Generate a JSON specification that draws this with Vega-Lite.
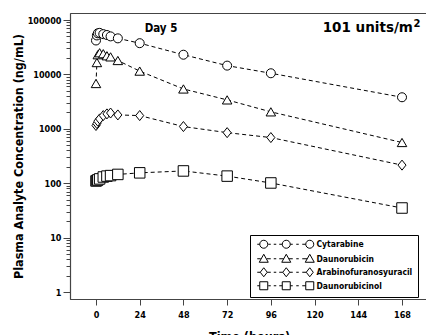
{
  "$schema": "https://vega.github.io/schema/vega-lite/v6.json",
  "width": 358,
  "height": 286,
  "autosize": "none",
  "padding": {"left": 70, "top": 13, "right": 0, "bottom": 36},
  "background": "white",
  "config": {
    "font": "DejaVu Sans Condensed, Liberation Sans, sans-serif",
    "view": {"stroke": "#444", "strokeWidth": 1},
    "axis": {
      "grid": false,
      "labelFont": "DejaVu Sans Condensed, Liberation Sans, sans-serif",
      "labelFontWeight": "bold",
      "labelFontSize": 9,
      "labelColor": "black",
      "titleFont": "DejaVu Sans Condensed, Liberation Sans, sans-serif",
      "titleFontWeight": "bold",
      "titleFontSize": 12.5,
      "titleColor": "black",
      "domainColor": "#444",
      "domainWidth": 1.2,
      "tickColor": "#444",
      "tickWidth": 1
    }
  },
  "datasets": {
    "pk": [
      {"analyte": "Cytarabine", "t": 0, "conc": 42000},
      {"analyte": "Cytarabine", "t": 0.5, "conc": 52000},
      {"analyte": "Cytarabine", "t": 1, "conc": 57000},
      {"analyte": "Cytarabine", "t": 2, "conc": 58000},
      {"analyte": "Cytarabine", "t": 4, "conc": 55000},
      {"analyte": "Cytarabine", "t": 6, "conc": 53000},
      {"analyte": "Cytarabine", "t": 8, "conc": 50000},
      {"analyte": "Cytarabine", "t": 12, "conc": 46000},
      {"analyte": "Cytarabine", "t": 24, "conc": 37500},
      {"analyte": "Cytarabine", "t": 48, "conc": 23000},
      {"analyte": "Cytarabine", "t": 72, "conc": 14500},
      {"analyte": "Cytarabine", "t": 96, "conc": 10500},
      {"analyte": "Cytarabine", "t": 168, "conc": 3800},
      {"analyte": "Daunorubicin", "t": 0, "conc": 6800},
      {"analyte": "Daunorubicin", "t": 0.5, "conc": 16500},
      {"analyte": "Daunorubicin", "t": 1, "conc": 23000},
      {"analyte": "Daunorubicin", "t": 2, "conc": 25000},
      {"analyte": "Daunorubicin", "t": 4, "conc": 24000},
      {"analyte": "Daunorubicin", "t": 6, "conc": 22000},
      {"analyte": "Daunorubicin", "t": 8, "conc": 21000},
      {"analyte": "Daunorubicin", "t": 12, "conc": 18000},
      {"analyte": "Daunorubicin", "t": 24, "conc": 11500},
      {"analyte": "Daunorubicin", "t": 48, "conc": 5400},
      {"analyte": "Daunorubicin", "t": 72, "conc": 3400},
      {"analyte": "Daunorubicin", "t": 96, "conc": 2050},
      {"analyte": "Daunorubicin", "t": 168, "conc": 560},
      {"analyte": "Arabinofuranosyuracil", "t": 0, "conc": 1150},
      {"analyte": "Arabinofuranosyuracil", "t": 0.5, "conc": 1250},
      {"analyte": "Arabinofuranosyuracil", "t": 1, "conc": 1380},
      {"analyte": "Arabinofuranosyuracil", "t": 2, "conc": 1520},
      {"analyte": "Arabinofuranosyuracil", "t": 4, "conc": 1750},
      {"analyte": "Arabinofuranosyuracil", "t": 6, "conc": 1880},
      {"analyte": "Arabinofuranosyuracil", "t": 8, "conc": 1950},
      {"analyte": "Arabinofuranosyuracil", "t": 12, "conc": 1800},
      {"analyte": "Arabinofuranosyuracil", "t": 24, "conc": 1750},
      {"analyte": "Arabinofuranosyuracil", "t": 48, "conc": 1100},
      {"analyte": "Arabinofuranosyuracil", "t": 72, "conc": 850},
      {"analyte": "Arabinofuranosyuracil", "t": 96, "conc": 690},
      {"analyte": "Arabinofuranosyuracil", "t": 168, "conc": 215},
      {"analyte": "Daunorubicinol", "t": 0, "conc": 110},
      {"analyte": "Daunorubicinol", "t": 0.5, "conc": 112},
      {"analyte": "Daunorubicinol", "t": 1, "conc": 115},
      {"analyte": "Daunorubicinol", "t": 2, "conc": 120},
      {"analyte": "Daunorubicinol", "t": 4, "conc": 130},
      {"analyte": "Daunorubicinol", "t": 6, "conc": 135},
      {"analyte": "Daunorubicinol", "t": 8, "conc": 138},
      {"analyte": "Daunorubicinol", "t": 12, "conc": 145},
      {"analyte": "Daunorubicinol", "t": 24, "conc": 155},
      {"analyte": "Daunorubicinol", "t": 48, "conc": 168},
      {"analyte": "Daunorubicinol", "t": 72, "conc": 135},
      {"analyte": "Daunorubicinol", "t": 96, "conc": 101},
      {"analyte": "Daunorubicinol", "t": 168, "conc": 35}
    ]
  },
  "encoding": {
    "x": {
      "field": "t",
      "type": "quantitative",
      "scale": {"domain": [-14.27, 182.27], "nice": false, "zero": false},
      "axis": {
        "title": "Time  (hours)",
        "values": [0, 24, 48, 72, 96, 120, 144, 168],
        "tickSize": 6,
        "labelPadding": 5,
        "titlePadding": 11
      }
    },
    "y": {
      "field": "conc",
      "type": "quantitative",
      "scale": {"type": "log", "domain": [0.7437, 134500], "nice": false},
      "axis": {
        "title": "Plasma  Analyte  Concentration  (ng/mL)",
        "values": [1, 2, 3, 4, 5, 6, 7, 8, 9, 10, 20, 30, 40, 50, 60, 70, 80, 90, 100, 200, 300, 400, 500, 600, 700, 800, 900, 1000, 2000, 3000, 4000, 5000, 6000, 7000, 8000, 9000, 10000, 20000, 30000, 40000, 50000, 60000, 70000, 80000, 90000, 100000],
        "labelExpr": "indexof([1,10,100,1000,10000,100000], datum.value) >= 0 ? format(datum.value, 'd') : ''",
        "tickSize": {"condition": {"test": "indexof([1,10,100,1000,10000,100000], datum.value) >= 0", "value": 7}, "value": 4},
        "labelPadding": 2,
        "titlePadding": 2
      }
    }
  },
  "layer": [
    {
      "data": {"name": "pk"},
      "mark": {"type": "line", "color": "black", "strokeWidth": 1, "strokeDash": [4, 3]},
      "encoding": {"detail": {"field": "analyte"}, "order": {"field": "t"}}
    },
    {
      "data": {"name": "pk"},
      "mark": {"type": "point", "filled": true, "fill": "white", "stroke": "black", "strokeWidth": 1, "opacity": 1},
      "encoding": {
        "shape": {
          "field": "analyte",
          "scale": {
            "domain": ["Cytarabine", "Daunorubicin", "Arabinofuranosyuracil", "Daunorubicinol"],
            "range": ["circle", "triangle-up", "M0,-1L0.8,0L0,1L-0.8,0Z", "square"]
          },
          "legend": null
        },
        "size": {
          "field": "analyte",
          "type": "nominal",
          "scale": {
            "domain": ["Cytarabine", "Daunorubicin", "Arabinofuranosyuracil", "Daunorubicinol"],
            "range": [81, 110, 100, 81]
          },
          "legend": null
        }
      }
    },
    {
      "data": {"name": "pk"},
      "transform": [{"filter": "datum.t < -1000"}],
      "mark": {"type": "point", "filled": false, "color": "black", "strokeWidth": 1, "opacity": 1, "size": 4},
      "encoding": {
        "shape": {
          "field": "analyte",
          "scale": {
            "domain": ["Cytarabine", "Daunorubicin", "Arabinofuranosyuracil", "Daunorubicinol"],
            "range": [
              "M-2,0L0.5,0M9,0L11.5,0M14.5,0L17,0M20,0L23,0M31,0L33.5,0M37,0L39.5,0M43,0L46.5,0M0.5,0A4,4 0 1,0 8.5,0A4,4 0 1,0 0.5,0ZM23,0A4,4 0 1,0 31,0A4,4 0 1,0 23,0ZM46.5,0A4,4 0 1,0 54.5,0A4,4 0 1,0 46.5,0Z",
              "M-2,0L1.5,0M7.5,0L11.5,0M14.5,0L17,0M20,0L24.5,0M29.5,0L33.5,0M37,0L39.5,0M43,0L48,0M4.5,-4.5L9,3.5L0,3.5ZM27,-4.5L31.5,3.5L22.5,3.5ZM50.5,-4.5L55,3.5L46,3.5Z",
              "M-2,0L1,0M8,0L11.5,0M14.5,0L17,0M20,0L23.5,0M30.5,0L33.5,0M37,0L39.5,0M43,0L47,0M4.5,-4.5L8,0L4.5,4.5L1,0ZM27,-4.5L30.5,0L27,4.5L23.5,0ZM50.5,-4.5L54,0L50.5,4.5L47,0Z",
              "M-2,0L0.5,0M9,0L11.5,0M14.5,0L17,0M20,0L23,0M31,0L33.5,0M37,0L39.5,0M43,0L46.5,0M0.5,-4L8.5,-4L8.5,4L0.5,4ZM23,-4L31,-4L31,4L23,4ZM46.5,-4L54.5,-4L54.5,4L46.5,4Z"
            ]
          },
          "legend": {
            "title": null,
            "orient": "none",
            "legendX": 180,
            "legendY": 222,
            "padding": 5,
            "strokeColor": "black",
            "fillColor": "white",
            "symbolSize": 4,
            "symbolStrokeWidth": 1,
            "symbolStrokeColor": "black",
            "symbolOpacity": 1,
            "labelOffset": 53,
            "labelFont": "DejaVu Sans Condensed, Liberation Sans, sans-serif",
            "labelFontWeight": "bold",
            "labelFontSize": 8.5,
            "labelColor": "black",
            "labelLimit": 200,
            "rowPadding": 0.5
          }
        }
      }
    },
    {
      "data": {"values": [{"label": "Day 5", "t": 35.7, "conc": 60200}]},
      "mark": {"type": "text", "align": "center", "baseline": "alphabetic", "fontSize": 11.5, "fontWeight": "bold", "font": "DejaVu Sans Condensed, Liberation Sans, sans-serif", "color": "black"},
      "encoding": {"text": {"field": "label"}}
    },
    {
      "data": {"values": [{"label": "101 units/m", "t": 174, "conc": 60200}]},
      "mark": {"type": "text", "align": "right", "baseline": "alphabetic", "fontSize": 13.5, "fontWeight": "bold", "font": "DejaVu Sans", "color": "black"},
      "encoding": {"text": {"field": "label"}}
    },
    {
      "data": {"values": [{"label": "2", "t": 174.3, "conc": 74300}]},
      "mark": {"type": "text", "align": "left", "baseline": "alphabetic", "fontSize": 10, "fontWeight": "bold", "font": "DejaVu Sans", "color": "black"},
      "encoding": {"text": {"field": "label"}}
    }
  ],
  "resolve": {"scale": {"shape": "independent"}}
}
